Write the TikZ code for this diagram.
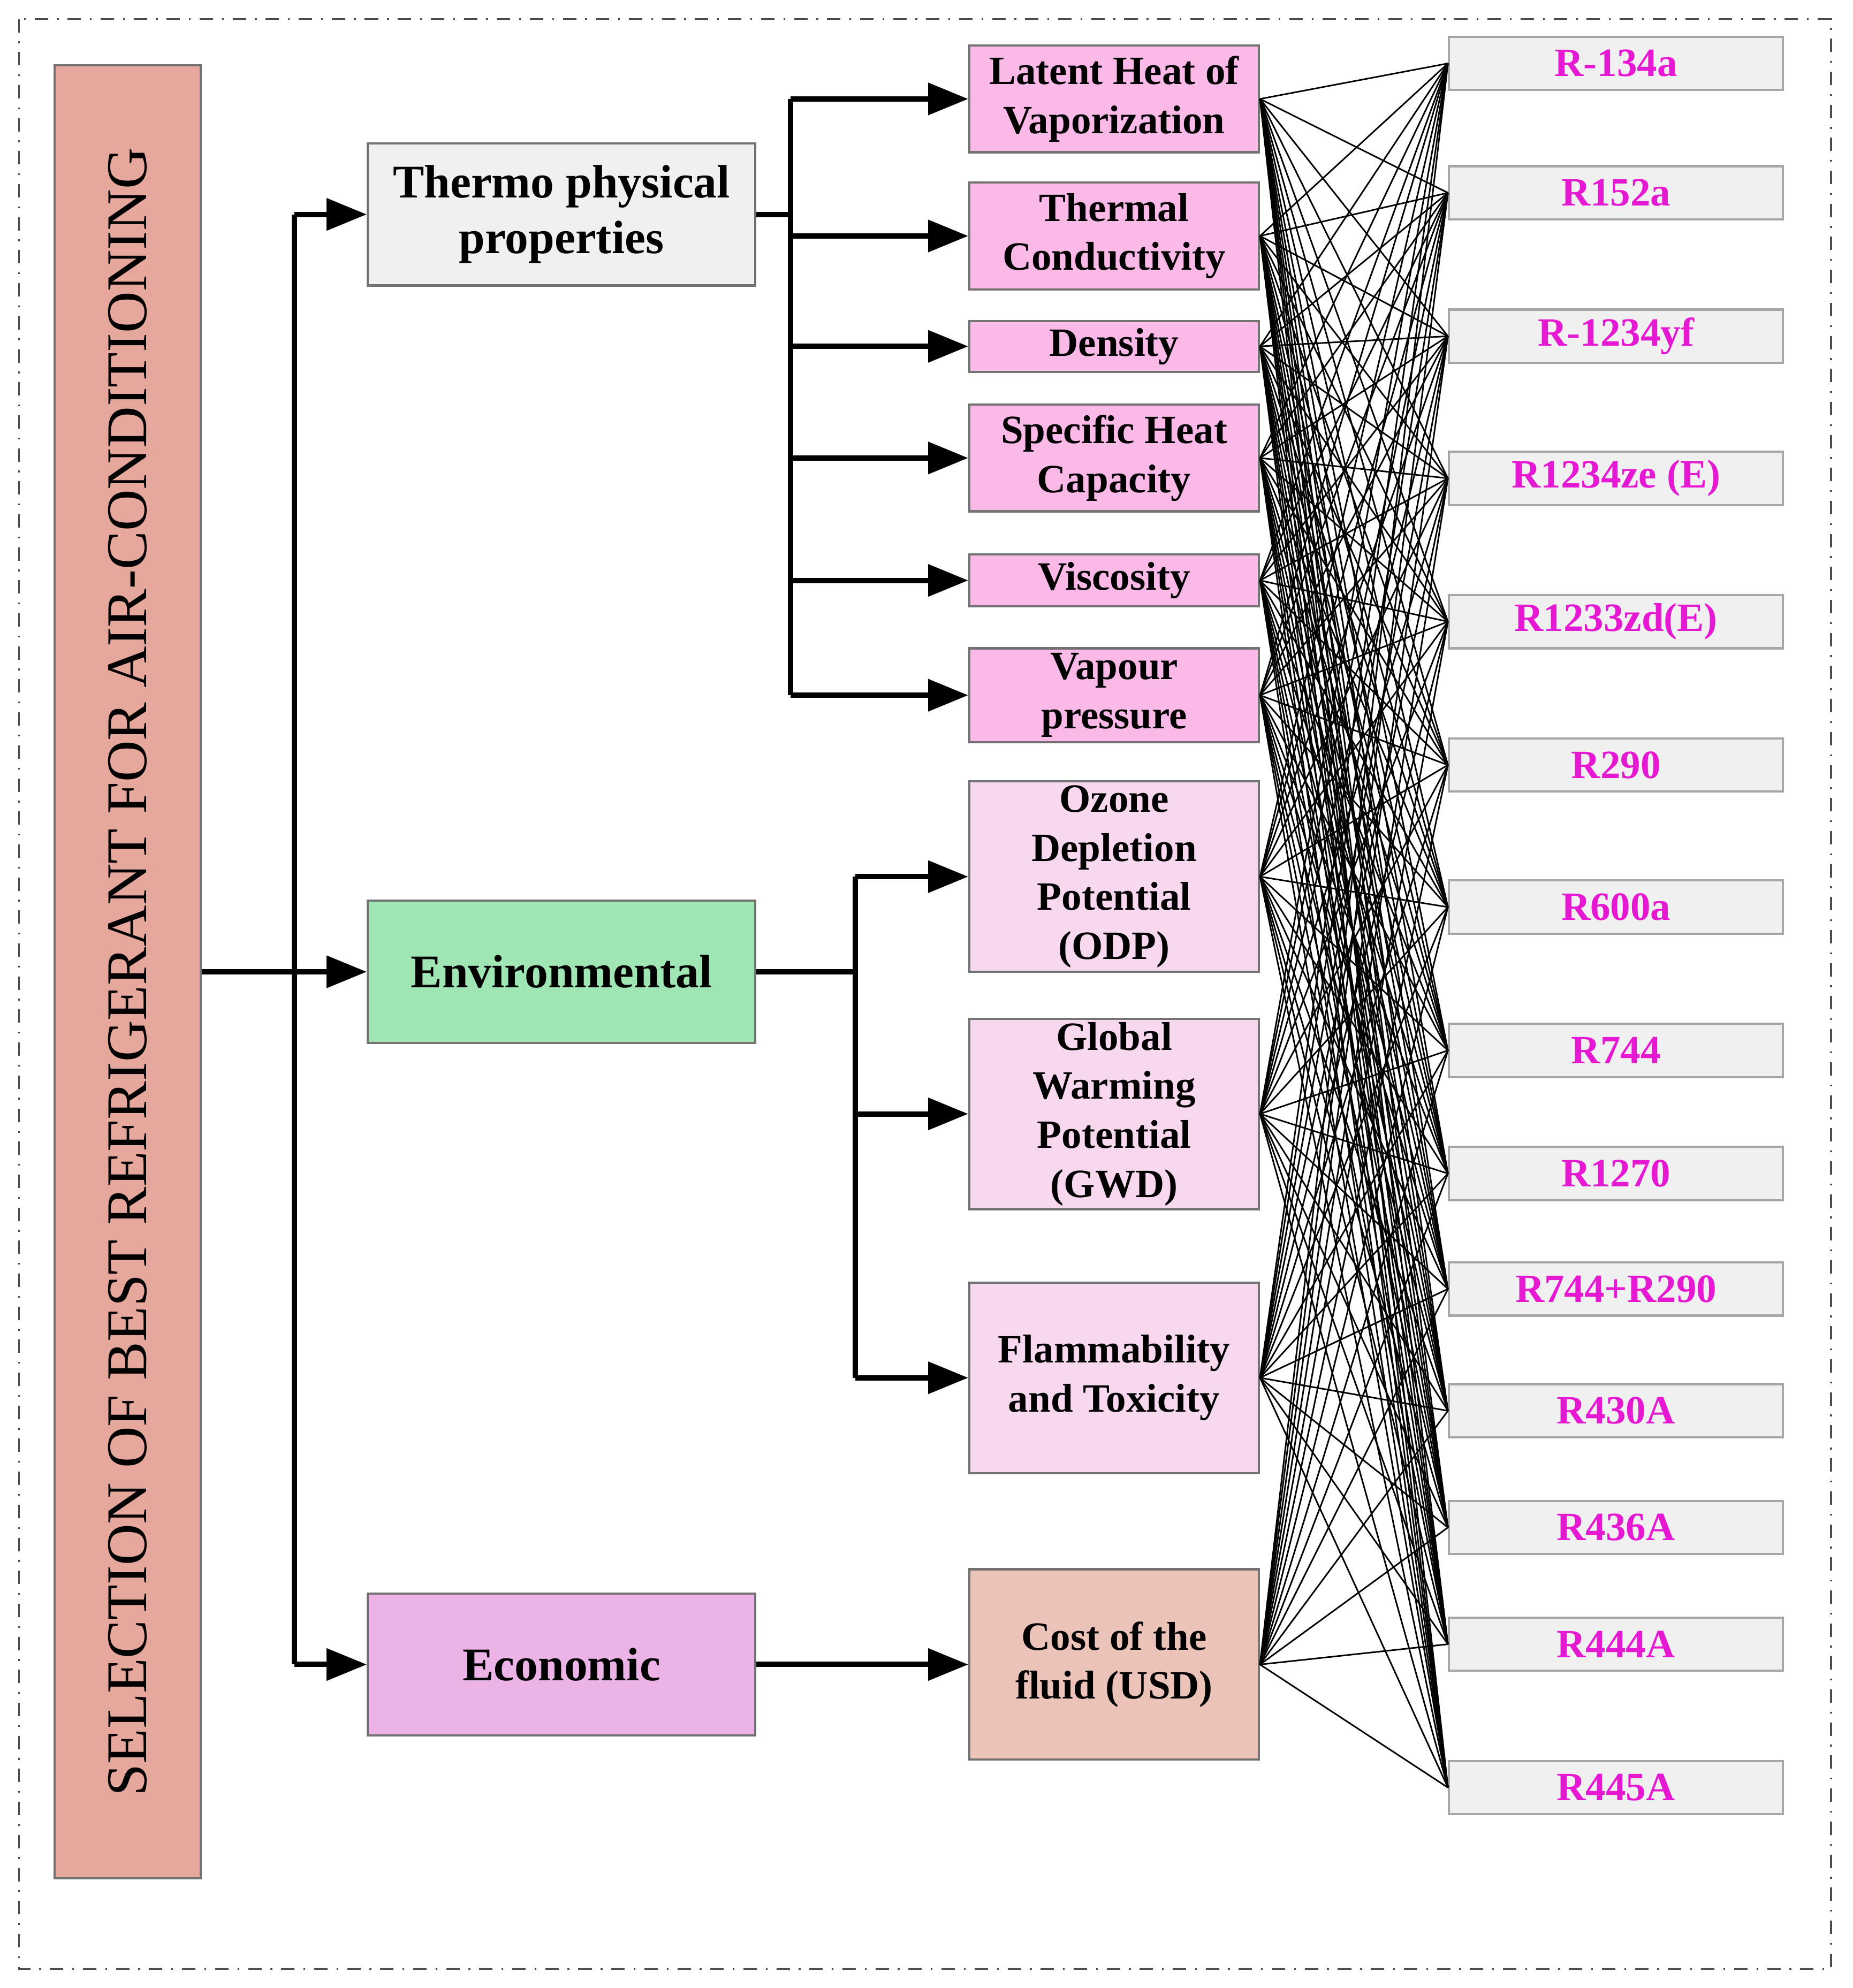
\documentclass[tikz,border=0pt]{standalone}
\usepackage{fontspec}
\setmainfont{Liberation Serif}
\usetikzlibrary{positioning,arrows.meta}
\definecolor{ttl}{HTML}{E6A89C}
\definecolor{thr}{HTML}{F0F0F0}
\definecolor{env}{HTML}{A0E6B4}
\definecolor{eco}{HTML}{ECB4E6}
\definecolor{pk}{HTML}{FBB9E8}
\definecolor{lpk}{HTML}{F8D8EF}
\definecolor{cst}{HTML}{EBC3B9}
\definecolor{mag}{HTML}{E619D2}
\tikzset{
  box/.style={draw=black!55, line width=0.5pt, align=center, font=\bfseries, inner sep=0pt},
  cat/.style={box, minimum width=3.05cm, minimum height=1.12cm, font=\fontsize{10.5}{12.5}\selectfont\bfseries},
  sub/.style={box, minimum width=2.28cm, font=\fontsize{9}{11}\selectfont\bfseries},
  ref/.style={box, draw=black!35, fill=thr, minimum width=2.63cm, minimum height=0.42cm, text=mag, font=\fontsize{9}{11}\selectfont\bfseries},
  arr/.style={-{Triangle[length=9pt,width=7pt]}, line width=1.2pt},
  fan/.style={line width=0.35pt}
}
\begin{document}
\begin{tikzpicture}[x=0.01cm,y=-0.01cm]
\useasboundingbox (0,0) rectangle (1460,1567);
\draw [dash dot, black!70] (15,15) rectangle (1443,1552);
% title
\node [box, fill=ttl, minimum width=1.15cm, minimum height=14.28cm] (ttl) at (100.5,766) {};
\node [rotate=90, font=\fontsize{12.9}{14}\selectfont] at (ttl) {SELECTION OF BEST REFRIGERANT FOR AIR-CONDITIONING};
% categories
\node [cat, fill=thr] (thr) at (442.5,169) {Thermo physical\\properties};
\node [cat, fill=env] (env) at (442.5,766) {Environmental};
\node [cat, fill=eco] (eco) at (442.5,1312) {Economic};
% criteria
\node [sub, fill=pk, minimum height=0.84cm] (lat) at (878,78) {Latent Heat of\\Vaporization};
\node [sub, fill=pk, minimum height=0.84cm] (tc) at (878,186) {Thermal\\Conductivity};
\node [sub, fill=pk, minimum height=0.40cm] (den) at (878,273) {Density};
\node [sub, fill=pk, minimum height=0.84cm] (cp) at (878,361) {Specific Heat\\Capacity};
\node [sub, fill=pk, minimum height=0.41cm] (vis) at (878,457.5) {Viscosity};
\node [sub, fill=pk, minimum height=0.74cm] (vp) at (878,548) {Vapour\\pressure};
\node [sub, fill=lpk, minimum height=1.50cm] (odp) at (878,691) {Ozone\\Depletion\\Potential\\(ODP)};
\node [sub, fill=lpk, minimum height=1.50cm] (gwp) at (878,878) {Global\\Warming\\Potential\\(GWD)};
\node [sub, fill=lpk, minimum height=1.50cm] (flt) at (878,1086) {Flammability\\and Toxicity};
\node [sub, fill=cst, minimum height=1.50cm] (cst) at (878,1312) {Cost of the\\fluid (USD)};
% refrigerants
\foreach \n/\t/\y in {r1/R-134a/50, r2/R152a/152, r3/R-1234yf/265, r4/R1234ze (E)/377,
  r5/R1233zd(E)/490, r6/R290/603, r7/R600a/715, r8/R744/828, r9/R1270/925,
  r10/R744+R290/1016, r11/R430A/1112, r12/R436A/1204, r13/R444A/1296, r14/R445A/1409}
  \node [ref] (\n) at (1273.5,\y) {\t};
% main tree
\coordinate (j0) at (232,766);
\draw [line width=1.2pt] (ttl.east) -- (j0);
\draw [line width=1.2pt] (232,169) -- (232,1312);
\draw [arr] (232,169) -- (thr.west);
\draw [arr] (j0) -- (env.west);
\draw [arr] (232,1312) -- (eco.west);
% thermo branch
\draw [line width=1.2pt] (thr.east) -- (623,169);
\draw [line width=1.2pt] (623,78) -- (623,548);
\foreach \n in {lat,tc,den,cp,vis,vp}
  \draw [arr] (623,0 |- \n.west) -- (\n.west);
% environmental branch
\draw [line width=1.2pt] (env.east) -- (674,766);
\draw [line width=1.2pt] (674,691) -- (674,1086);
\foreach \n in {odp,gwp,flt}
  \draw [arr] (674,0 |- \n.west) -- (\n.west);
% economic
\draw [arr] (eco.east) -- (cst.west);
% all criteria to all refrigerants
\foreach \a in {lat,tc,den,cp,vis,vp,odp,gwp,flt,cst}
  \foreach \b in {r1,r2,r3,r4,r5,r6,r7,r8,r9,r10,r11,r12,r13,r14}
    \draw [fan] (\a.east) -- (\b.west);
\end{tikzpicture}
\end{document}
